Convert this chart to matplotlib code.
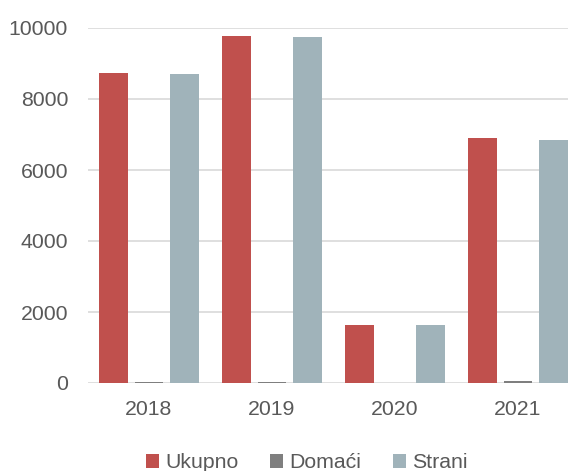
import matplotlib
matplotlib.use("Agg")
import matplotlib.pyplot as plt
import numpy as np
from matplotlib.patches import Patch

years = ["2018", "2019", "2020", "2021"]
ukupno = [8725, 9775, 1635, 6900]
domaci = [35, 40, 5, 65]
strani = [8700, 9735, 1630, 6840]

series_names = ["Ukupno", "Domaći", "Strani"]
colors = ["#C0504D", "#7F7F7F", "#A0B3BA"]

plt.rcParams['font.family'] = ['Liberation Sans', 'DejaVu Sans']

fig = plt.figure(figsize=(5.68, 4.71), dpi=100)
ax = fig.add_axes([87.5/568, 1-383/471, 4*123/568, 355/471])

x = np.arange(len(years))
w = 0.232
pitch = 0.29
for i, (vals, c) in enumerate(zip([ukupno, domaci, strani], colors)):
    ax.bar(x + (i-1)*pitch, vals, width=w, color=c, linewidth=0, zorder=3)

ax.set_xlim(-0.5, len(years)-0.5)
ax.set_ylim(0, 10000)
ax.set_yticks(range(0, 10001, 2000))
ax.set_xticks(x)
ax.set_xticklabels(years)
ax.yaxis.grid(True, color='#D9D9D9', linewidth=1.2, zorder=0)
ax.set_axisbelow(True)
for s in ax.spines.values():
    s.set_visible(False)
ax.tick_params(axis='both', length=0, labelsize=15.3, colors='#595959')
ax.tick_params(axis='y', pad=14)
ax.tick_params(axis='x', pad=12)

handles = [Patch(facecolor=c, edgecolor='none') for c in colors]
fig.legend(handles, series_names, loc='center', bbox_to_anchor=(307/568, 1-463/471),
           ncol=3, frameon=False, fontsize=15.3, handlelength=0.6, handleheight=0.6,
           handletextpad=0.3, columnspacing=1.5, labelcolor='#595959', borderaxespad=0, borderpad=0)

fig.savefig("out.png", dpi=100)
